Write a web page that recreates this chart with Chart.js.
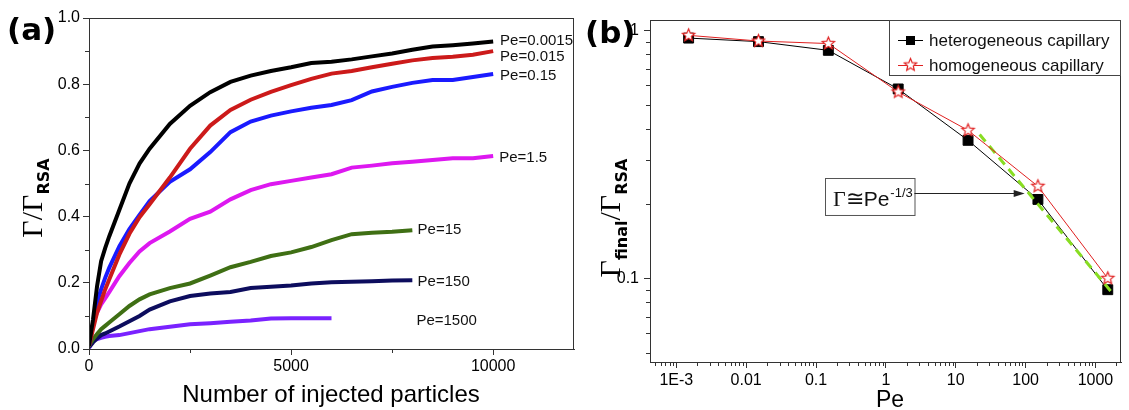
<!DOCTYPE html>
<html lang="en">
<head>
<meta charset="UTF-8">
<title>Coverage vs injected particles and Pe</title>
<script src="https://cdn.jsdelivr.net/npm/chart.js"></script>
<style>
body { margin: 0; background: #fff; }
.wrap { position: relative; width: 1129px; height: 410px; overflow: hidden; }
#chartA { position: absolute; left: 0; top: 0; }
#chartB { position: absolute; left: 580px; top: 0; }
.tag { position: absolute; font-family: 'DejaVu Sans', sans-serif; font-weight: bold; font-size: 31px; line-height: 30px; }
.ytitle {
  position: absolute; white-space: nowrap; line-height: 30px;
  font-family: 'Liberation Serif', serif; font-size: 30px;
  transform: translate(-50%, -50%) rotate(-90deg);
}
.ytitle sub { font-family: 'DejaVu Sans', sans-serif; font-weight: bold; font-size: 16px; vertical-align: baseline; position: relative; top: 7px; }
.xtitle { position: absolute; white-space: nowrap; font-family: 'Liberation Sans', Arial, sans-serif; line-height: 1; transform: translate(-50%, -50%); }
</style>
</head>
<body>
<div class="wrap">
  <canvas id="chartA" width="580" height="410"></canvas>
  <canvas id="chartB" width="549" height="410"></canvas>
  <div class="tag" style="left:7px; top:14px;">(a)</div>
  <div class="tag" style="left:585px; top:17px;">(b)</div>
  <div class="ytitle" style="left:34px; top:198px;">&Gamma;/&Gamma;<sub>RSA</sub></div>
  <div class="ytitle" style="left:612px; top:218px;">&Gamma;<sub>final</sub>/&Gamma;<sub>RSA</sub></div>
  <div class="xtitle" style="left:331px; top:394px; font-size:24px;">Number of injected particles</div>
  <div class="xtitle" style="left:890px; top:399px; font-size:23px;">Pe</div>
</div>
<script>
// ---- panel (a): coverage vs number of injected particles ----
const injected = [0, 100, 200, 300, 400, 500, 750, 1000, 1250, 1500, 2000, 2500, 3000, 3500,
                  4000, 4500, 5000, 5500, 6000, 6500, 7000, 7500, 8000, 8500, 9000, 9500, 10000];
const pe0p0015 = [0.01, 0.09, 0.19, 0.265, 0.305, 0.34, 0.42, 0.50, 0.56, 0.605, 0.68, 0.735, 0.776, 0.807,
                  0.826, 0.840, 0.851, 0.864, 0.868, 0.875, 0.884, 0.893, 0.904, 0.914, 0.918, 0.923, 0.929];
const pe0p015 = [0.01, 0.06, 0.11, 0.145, 0.18, 0.21, 0.285, 0.348, 0.398, 0.437, 0.518, 0.605, 0.675, 0.722,
                 0.753, 0.777, 0.797, 0.816, 0.832, 0.840, 0.851, 0.862, 0.872, 0.879, 0.883, 0.889, 0.900];
const pe0p15 = [0.01, 0.07, 0.14, 0.18, 0.215, 0.245, 0.31, 0.362, 0.405, 0.447, 0.505, 0.543, 0.595, 0.655,
                0.687, 0.705, 0.718, 0.729, 0.737, 0.752, 0.778, 0.792, 0.804, 0.813, 0.813, 0.822, 0.831];
const pe1p5 = [0.01, 0.08, 0.11, 0.135, 0.153, 0.172, 0.22, 0.26, 0.295, 0.32, 0.355, 0.393, 0.415, 0.452,
               0.48, 0.498, 0.508, 0.518, 0.528, 0.548, 0.554, 0.561, 0.566, 0.571, 0.576, 0.576, 0.583];
const pe15 = [0.01, 0.03, 0.045, 0.06, 0.07, 0.08, 0.105, 0.13, 0.15, 0.165, 0.184, 0.198, 0.222, 0.247,
              0.263, 0.281, 0.292, 0.308, 0.329, 0.347, 0.351, 0.354, 0.359];
const pe150 = [0.005, 0.02, 0.032, 0.042, 0.047, 0.053, 0.068, 0.084, 0.10, 0.119, 0.144, 0.16, 0.168, 0.172,
               0.184, 0.188, 0.192, 0.198, 0.202, 0.203, 0.205, 0.207, 0.208];
const pe1500 = [0.003, 0.025, 0.03, 0.034, 0.037, 0.039, 0.042, 0.048, 0.054, 0.06, 0.067, 0.075, 0.078, 0.082,
                0.086, 0.092, 0.093, 0.093, 0.093];

const curveNames = ['Pe=0.0015', 'Pe=0.015', 'Pe=0.15', 'Pe=1.5', 'Pe=15', 'Pe=150', 'Pe=1500'];
const curveColors = ['#000000', '#cc1a1a', '#1a1aff', '#dd18f0', '#3f6f14', '#0d0d5e', '#7a22ff'];
const labelX = [10170, 10170, 10170, 10150, 8130, 8130, 8100];
const labelY = [0.930, 0.882, 0.825, 0.577, 0.360, 0.202, 0.085];

const xTicksA = [0, 5000, 10000];
const yTicksA = [0, 0.2, 0.4, 0.6, 0.8, 1.0];
const xMinorA = [2500, 7500];
const yMinorA = [0.1, 0.3, 0.5, 0.7, 0.9];

// ---- panel (b): final coverage vs Pe ----
const peValues = [0.0015, 0.015, 0.15, 1.5, 15, 150, 1500];
const heteroFinal = [0.93, 0.90, 0.83, 0.58, 0.36, 0.208, 0.090];
const homoFinal = [0.954, 0.905, 0.884, 0.564, 0.395, 0.235, 0.100];
const fitPe = [22, 1700];
const fitGamma = [0.38, 0.088];

const xTicksB = [0.001, 0.01, 0.1, 1, 10, 100, 1000];
const xTickLabelsB = ['1E-3', '0.01', '0.1', '1', '10', '100', '1000'];
const yTicksB = [0.1, 1];
const yTickLabelsB = ['0.1', '1'];

// log minor ticks 2..9 in every decade
function logMinors(fromExp, toExp) {
  const out = [];
  for (let e = fromExp; e <= toExp; e++) {
    for (let m = 2; m <= 9; m++) out.push(m * Math.pow(10, e));
  }
  return out;
}
const xMinorB = logMinors(-4, 3);
const yMinorB = logMinors(-2, -1);

const tickFont = { family: "'Liberation Sans', Arial, sans-serif", size: 16 };
const axisColor = '#333';

// frame around plot area + short minor ticks
const frameTicks = {
  id: 'frameTicks',
  afterDatasetsDraw(chart, args, opts) {
    const { ctx, chartArea: a, scales } = chart;
    ctx.save();
    ctx.strokeStyle = axisColor;
    ctx.lineWidth = 1;
    ctx.strokeRect(a.left + 0.5, a.top + 0.5, a.right - a.left - 1, a.bottom - a.top);
    ctx.beginPath();
    (opts.minorX || []).forEach(v => {
      if (v < scales.x.min || v > scales.x.max) return;
      const px = Math.round(scales.x.getPixelForValue(v)) + 0.5;
      ctx.moveTo(px, a.bottom); ctx.lineTo(px, a.bottom + opts.len);
    });
    (opts.minorY || []).forEach(v => {
      if (v < scales.y.min || v > scales.y.max) return;
      const py = Math.round(scales.y.getPixelForValue(v)) + 0.5;
      ctx.moveTo(a.left, py); ctx.lineTo(a.left - opts.len, py);
    });
    ctx.stroke();
    ctx.restore();
  }
};

// Pe= labels next to the curves of panel (a)
const curveLabels = {
  id: 'curveLabels',
  afterDraw(chart) {
    const { ctx, scales } = chart;
    ctx.save();
    ctx.font = "15px 'Liberation Sans', Arial, sans-serif";
    ctx.fillStyle = '#111';
    ctx.textBaseline = 'middle';
    curveNames.forEach((name, i) => {
      ctx.fillText(name, scales.x.getPixelForValue(labelX[i]), scales.y.getPixelForValue(labelY[i]));
    });
    ctx.restore();
  }
};

function makeStar(r) {
  const s = Math.ceil(r * 2 + 4);
  const c = document.createElement('canvas');
  c.width = s; c.height = s;
  const g = c.getContext('2d');
  g.beginPath();
  for (let k = 0; k < 10; k++) {
    const rad = k % 2 === 0 ? r : r * 0.45;
    const ang = -Math.PI / 2 + k * Math.PI / 5;
    const px = s / 2 + rad * Math.cos(ang), py = s / 2 + rad * Math.sin(ang);
    if (k === 0) g.moveTo(px, py); else g.lineTo(px, py);
  }
  g.closePath();
  g.fillStyle = '#fff';
  g.fill();
  g.strokeStyle = '#e02020';
  g.lineWidth = 1.2;
  g.stroke();
  return c;
}
const starImg = makeStar(6.5);

// legend box and the power-law annotation of panel (b)
const annot = { pe: [0.134, 2.56], gamma: [0.253, 0.1795], tip: [97, 0.22] };
const panelBExtras = {
  id: 'panelBExtras',
  afterDraw(chart) {
    const { ctx, chartArea: a, scales: { x, y } } = chart;
    ctx.save();
    // legend
    const lw = 232, lh = 55, lx = a.right - lw, ly = a.top;
    ctx.fillStyle = '#fff';
    ctx.fillRect(lx, ly, lw, lh);
    ctx.strokeStyle = '#444';
    ctx.lineWidth = 1;
    ctx.strokeRect(lx + 0.5, ly + 0.5, lw - 1, lh);
    const rows = [
      { text: 'heterogeneous capillary', color: '#000', square: true },
      { text: 'homogeneous capillary', color: '#e02020', square: false }
    ];
    ctx.font = "17px 'Liberation Sans', Arial, sans-serif";
    ctx.textBaseline = 'middle';
    rows.forEach((r, i) => {
      const cy = ly + 20 + i * 25;
      ctx.strokeStyle = r.color;
      ctx.beginPath();
      ctx.moveTo(lx + 9, cy + 0.5); ctx.lineTo(lx + 34, cy + 0.5);
      ctx.stroke();
      if (r.square) {
        ctx.fillStyle = '#000';
        ctx.fillRect(lx + 17, cy - 4, 9, 9);
      } else {
        ctx.drawImage(starImg, lx + 21.5 - starImg.width / 2, cy - starImg.height / 2);
      }
      ctx.fillStyle = '#111';
      ctx.fillText(r.text, lx + 40, cy + 1);
    });
    // annotation box
    const bx1 = x.getPixelForValue(annot.pe[0]), bx2 = x.getPixelForValue(annot.pe[1]);
    const by1 = y.getPixelForValue(annot.gamma[0]), by2 = y.getPixelForValue(annot.gamma[1]);
    ctx.strokeStyle = '#555';
    ctx.strokeRect(Math.round(bx1) + 0.5, Math.round(by1) + 0.5, bx2 - bx1, by2 - by1);
    ctx.fillStyle = '#111';
    ctx.textBaseline = 'alphabetic';
    let tx = bx1 + 8;
    const base = by2 - 9;
    ctx.font = "22px 'Liberation Serif', serif";
    ctx.fillText('\u0393\u2245', tx, base);
    tx += ctx.measureText('\u0393\u2245').width;
    ctx.font = "21px 'Liberation Sans', Arial, sans-serif";
    ctx.fillText('Pe', tx, base);
    tx += ctx.measureText('Pe').width;
    ctx.font = "13px 'Liberation Sans', Arial, sans-serif";
    ctx.fillText('-1/3', tx + 1, base - 9);
    // arrow
    const ax = x.getPixelForValue(annot.tip[0]), ay = Math.round(y.getPixelForValue(annot.tip[1])) + 0.5;
    ctx.strokeStyle = '#222';
    ctx.beginPath();
    ctx.moveTo(bx2, ay); ctx.lineTo(ax - 8, ay);
    ctx.stroke();
    ctx.fillStyle = '#222';
    ctx.beginPath();
    ctx.moveTo(ax, ay); ctx.lineTo(ax - 11, ay - 3.5); ctx.lineTo(ax - 11, ay + 3.5);
    ctx.closePath();
    ctx.fill();
    ctx.restore();
  }
};

function pairs(xs, ys) {
  return ys.map((v, i) => ({ x: xs[i], y: v }));
}

function axisBase() {
  return {
    grid: { drawOnChartArea: false, drawTicks: true, tickLength: 6, color: axisColor },
    border: { display: true, color: axisColor, width: 1 }
  };
}

function createCharts() {
  const seriesA = [pe0p0015, pe0p015, pe0p15, pe1p5, pe15, pe150, pe1500];
  new Chart(document.getElementById('chartA').getContext('2d'), {
    type: 'line',
    data: {
      datasets: seriesA.map((ys, i) => ({
        label: curveNames[i],
        data: pairs(injected, ys),
        borderColor: curveColors[i],
        borderWidth: 4,
        pointRadius: 0,
        tension: 0,
        fill: false
      }))
    },
    options: {
      responsive: false,
      animation: false,
      layout: { padding: { left: 0, top: 18, right: 6, bottom: 0 } },
      plugins: {
        legend: { display: false },
        tooltip: { enabled: false },
        frameTicks: { minorX: xMinorA, minorY: yMinorA, len: 4 }
      },
      scales: {
        x: Object.assign(axisBase(), {
          type: 'linear', min: 0, max: 12000,
          afterBuildTicks: s => { s.ticks = xTicksA.map(v => ({ value: v })); },
          afterFit: s => { s.height = 61; },
          ticks: { font: tickFont, color: '#000', padding: 2, maxRotation: 0, autoSkip: false,
                   callback: v => String(v) }
        }),
        y: Object.assign(axisBase(), {
          type: 'linear', min: 0, max: 1,
          afterBuildTicks: s => { s.ticks = yTicksA.map(v => ({ value: v })); },
          afterFit: s => { s.width = 89; },
          ticks: { font: tickFont, color: '#000', padding: 3, callback: v => v.toFixed(1) }
        })
      }
    },
    plugins: [frameTicks, curveLabels]
  });

  new Chart(document.getElementById('chartB').getContext('2d'), {
    type: 'line',
    data: {
      datasets: [
        {
          label: 'homogeneous capillary',
          data: pairs(peValues, homoFinal),
          borderColor: '#e02020',
          borderWidth: 1,
          pointStyle: starImg,
          pointRadius: 6,
          tension: 0
        },
        {
          label: 'Pe^-1/3',
          data: pairs(fitPe, fitGamma),
          borderColor: '#88dd22',
          borderWidth: 3,
          borderDash: [9, 6],
          pointRadius: 0,
          tension: 0
        },
        {
          label: 'heterogeneous capillary',
          data: pairs(peValues, heteroFinal),
          borderColor: '#000',
          borderWidth: 1,
          pointStyle: 'rect',
          pointRadius: 7,
          pointBackgroundColor: '#000',
          pointBorderColor: '#000',
          tension: 0
        }
      ]
    },
    options: {
      responsive: false,
      animation: false,
      layout: { padding: { left: 0, top: 20, right: 1, bottom: 0 } },
      plugins: {
        legend: { display: false },
        tooltip: { enabled: false },
        frameTicks: { minorX: xMinorB, minorY: yMinorB, len: 4 }
      },
      scales: {
        x: Object.assign(axisBase(), {
          type: 'logarithmic', min: 0.00042, max: 2320,
          afterBuildTicks: s => { s.ticks = xTicksB.map(v => ({ value: v })); },
          afterFit: s => { s.height = 48; },
          ticks: { font: tickFont, color: '#000', padding: 3, maxRotation: 0, autoSkip: false,
                   callback: v => xTickLabelsB[xTicksB.indexOf(v)] }
        }),
        y: Object.assign(axisBase(), {
          type: 'logarithmic', min: 0.046, max: 1.1,
          afterBuildTicks: s => { s.ticks = yTicksB.map(v => ({ value: v })); },
          afterFit: s => { s.width = 70; },
          ticks: { font: tickFont, color: '#000', padding: 5,
                   callback: v => yTickLabelsB[yTicksB.indexOf(v)] }
        })
      }
    },
    plugins: [frameTicks, panelBExtras]
  });
}

if (document.readyState === 'loading') {
  document.addEventListener('DOMContentLoaded', createCharts);
} else {
  createCharts();
}
</script>
</body>
</html>
